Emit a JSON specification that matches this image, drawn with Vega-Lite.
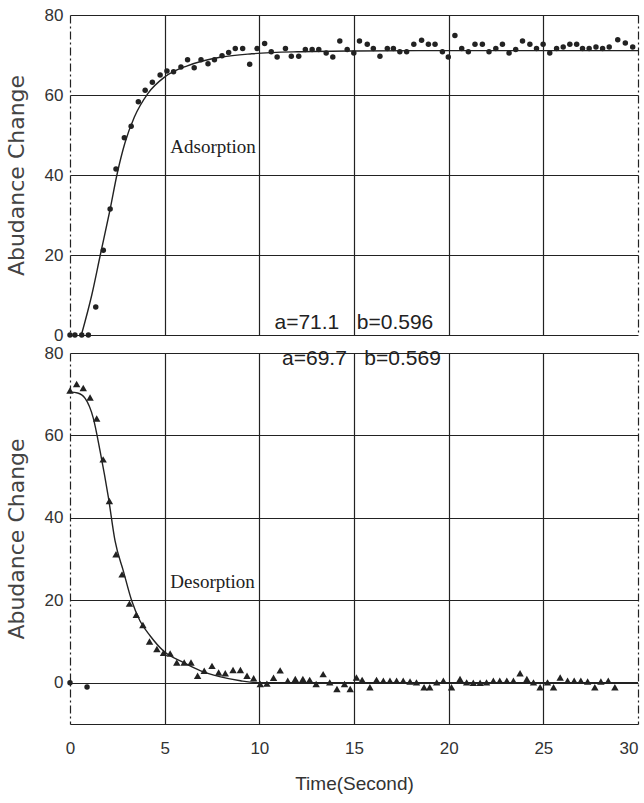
{
  "$schema": "https://vega.github.io/schema/vega-lite/v6.json",
  "background": "white",
  "padding": {"left": 5, "top": 6, "right": 5, "bottom": 4},
  "spacing": 18,
  "bounds": "flush",
  "config": {
    "view": {"stroke": null},
    "font": "Liberation Sans",
    "axis": {
      "ticks": false,
      "domain": false,
      "grid": true,
      "gridColor": "#222",
      "gridWidth": 1.2,
      "gridOpacity": 1,
      "labelFont": "Liberation Sans",
      "labelFontSize": 17,
      "labelColor": "#333",
      "titleFont": "DejaVu Sans",
      "titleFontWeight": "normal",
      "titleColor": "#444"
    }
  },
  "datasets": {
    "ads_pts": [
      {"t":0,"v":0},{"t":0.26,"v":0},{"t":0.62,"v":0},{"t":0.97,"v":0},{"t":1.36,"v":7},{"t":1.76,"v":21.2},{"t":2.12,"v":31.5},{"t":2.43,"v":41.5},{"t":2.87,"v":49.3},{"t":3.23,"v":52.2},{"t":3.61,"v":58.3},{"t":3.97,"v":61.2},{"t":4.35,"v":63.2},{"t":4.76,"v":65},{"t":5.12,"v":66},{"t":5.47,"v":65.8},{"t":5.86,"v":67},{"t":6.21,"v":68.8},{"t":6.56,"v":66.8},{"t":6.92,"v":68.8},{"t":7.29,"v":67.8},{"t":7.63,"v":68.8},{"t":8.03,"v":69.8},{"t":8.38,"v":70.6},{"t":8.73,"v":71.6},{"t":9.12,"v":71.6},{"t":9.49,"v":67.7},{"t":9.88,"v":71.6},{"t":10.28,"v":72.9},{"t":10.63,"v":70.8},{"t":10.94,"v":69.5},{"t":11.38,"v":71.6},{"t":11.69,"v":69.7},{"t":12.08,"v":69.7},{"t":12.43,"v":71.4},{"t":12.79,"v":71.4},{"t":13.14,"v":71.4},{"t":13.53,"v":70.5},{"t":13.88,"v":69.5},{"t":14.25,"v":73.5},{"t":14.64,"v":71.4},{"t":14.99,"v":70.5},{"t":15.29,"v":73.5},{"t":15.7,"v":72.7},{"t":16.02,"v":71.6},{"t":16.37,"v":69.7},{"t":16.76,"v":71.6},{"t":17.08,"v":71.6},{"t":17.42,"v":70.8},{"t":17.78,"v":70.8},{"t":18.16,"v":72.7},{"t":18.57,"v":73.7},{"t":18.93,"v":72.7},{"t":19.28,"v":72.7},{"t":19.67,"v":70.8},{"t":19.98,"v":69.5},{"t":20.33,"v":74.9},{"t":20.69,"v":71.6},{"t":21.04,"v":70.8},{"t":21.39,"v":72.7},{"t":21.78,"v":72.7},{"t":22.13,"v":70.8},{"t":22.49,"v":71.6},{"t":22.84,"v":72.7},{"t":23.19,"v":70.5},{"t":23.54,"v":71.4},{"t":23.9,"v":73.5},{"t":24.29,"v":72.7},{"t":24.64,"v":71.6},{"t":24.99,"v":72.7},{"t":25.34,"v":70.5},{"t":25.7,"v":71.6},{"t":26.05,"v":72},{"t":26.4,"v":72.7},{"t":26.76,"v":72.7},{"t":27.07,"v":71.6},{"t":27.42,"v":71.6},{"t":27.78,"v":72},{"t":28.13,"v":71.6},{"t":28.48,"v":72},{"t":28.93,"v":73.8},{"t":29.33,"v":73},{"t":29.72,"v":72}
    ],
    "ads_fit": [
      {"t":0.6,"v":0},{"t":1.15,"v":10},{"t":1.6,"v":20},{"t":2.1,"v":31},{"t":2.5,"v":40.5},{"t":2.9,"v":48},{"t":3.4,"v":54.5},{"t":4.1,"v":60.3},{"t":5,"v":64.5},{"t":6.2,"v":67.3},{"t":7,"v":68.5},{"t":8,"v":69.5},{"t":9.6,"v":70.3},{"t":12,"v":70.8},{"t":15,"v":71},{"t":20,"v":71.1},{"t":30,"v":71.1}
    ],
    "des_pts": [
      {"t":0,"v":70.9},{"t":0.35,"v":72.5},{"t":0.7,"v":71.5},{"t":1.06,"v":69.2},{"t":1.41,"v":64.1},{"t":1.75,"v":54.2},{"t":2.08,"v":44.1},{"t":2.43,"v":31.2},{"t":2.75,"v":26.3},{"t":3.14,"v":19.2},{"t":3.5,"v":16.5},{"t":3.85,"v":14},{"t":4.2,"v":10},{"t":4.59,"v":8.2},{"t":4.94,"v":7.3},{"t":5.29,"v":7.1},{"t":5.64,"v":4.9},{"t":6.03,"v":4.9},{"t":6.39,"v":4.9},{"t":6.74,"v":1.7},{"t":7.09,"v":2.9},{"t":7.5,"v":4.1},{"t":7.85,"v":2.5},{"t":8.2,"v":2.3},{"t":8.61,"v":3.1},{"t":9,"v":3.1},{"t":9.35,"v":1.7},{"t":9.7,"v":1.1},{"t":10.05,"v":-0.3},{"t":10.4,"v":-0.2},{"t":10.75,"v":1.2},{"t":11.1,"v":3},{"t":11.5,"v":0.5},{"t":11.9,"v":0.9},{"t":12.3,"v":0.9},{"t":12.66,"v":0.7},{"t":13,"v":-0.3},{"t":13.37,"v":2.1},{"t":13.72,"v":0.1},{"t":14.1,"v":-1.5},{"t":14.5,"v":-0.3},{"t":14.8,"v":-1.5},{"t":15.13,"v":1.3},{"t":15.43,"v":0.7},{"t":15.84,"v":-1.1},{"t":16.19,"v":0.7},{"t":16.55,"v":0.5},{"t":16.9,"v":0.5},{"t":17.25,"v":0.5},{"t":17.6,"v":0.5},{"t":17.96,"v":0.3},{"t":18.3,"v":0.1},{"t":18.7,"v":-1.1},{"t":19,"v":-1.1},{"t":19.37,"v":0.1},{"t":19.72,"v":0.5},{"t":20.15,"v":-1.1},{"t":20.6,"v":0.9},{"t":20.95,"v":0.1},{"t":21.3,"v":0},{"t":21.66,"v":0},{"t":22,"v":0.1},{"t":22.36,"v":0.5},{"t":22.7,"v":0.5},{"t":23.07,"v":0.5},{"t":23.42,"v":0.5},{"t":23.77,"v":2.3},{"t":24.13,"v":0.9},{"t":24.48,"v":0.1},{"t":24.83,"v":-1.1},{"t":25.22,"v":0.1},{"t":25.54,"v":-1.1},{"t":25.89,"v":1.3},{"t":26.28,"v":0.5},{"t":26.63,"v":0.5},{"t":26.98,"v":0.5},{"t":27.34,"v":0.3},{"t":27.72,"v":-1.1},{"t":28.04,"v":0.3},{"t":28.43,"v":0.5},{"t":28.78,"v":-1.1}
    ],
    "des_fit": [
      {"t":0,"v":70.5},{"t":0.4,"v":70.3},{"t":0.8,"v":69},{"t":1.23,"v":64.2},{"t":1.59,"v":56.2},{"t":2.03,"v":44.9},{"t":2.38,"v":34.4},{"t":2.82,"v":27.1},{"t":3.26,"v":19.9},{"t":3.7,"v":15},{"t":4.23,"v":11.4},{"t":4.94,"v":7.7},{"t":6,"v":4.9},{"t":6.9,"v":2.9},{"t":7.9,"v":1.5},{"t":9,"v":0.5},{"t":10,"v":0},{"t":30,"v":0}
    ],
    "des_dots": [
      {"t":0,"v":0},{"t":0.9,"v":-1}
    ],
    "top_serif": [{"t":5.3,"v":46.9,"label":"Adsorption"}],
    "top_sans": [{"t":10.8,"v":3,"label":"a=71.1\u00a0\u00a0\u00a0b=0.596"}],
    "bot_serif": [{"t":5.3,"v":24.4,"label":"Desorption"}],
    "bot_sans": [{"t":11.2,"v":78.6,"label":"a=69.7\u00a0\u00a0\u00a0b=0.569"}]
  },
  "vconcat": [
    {
      "width": 568,
      "height": 320,
      "encoding": {
        "x": {"field": "t", "type": "quantitative", "scale": {"domain": [0, 30], "nice": false},
          "axis": {"values": [0,5,10,15,20,25,30], "labels": false, "title": null,
            "gridDash": {"condition": {"test": "datum.value === 0 || datum.value === 30", "value": [8,3,2,3]}, "value": []}}},
        "y": {"field": "v", "type": "quantitative", "scale": {"domain": [0, 80], "nice": false},
          "axis": {"values": [0,20,40,60,80], "title": "Abudance Change", "titleFontSize": 22, "titlePadding": 16, "labelPadding": 7}}
      },
      "layer": [
        {"data": {"name": "ads_fit"}, "mark": {"type": "line", "interpolate": "monotone", "color": "#222", "strokeWidth": 1.4}},
        {"data": {"name": "ads_pts"}, "mark": {"type": "circle", "size": 30, "color": "#222", "opacity": 1}},
        {"data": {"name": "top_serif"}, "mark": {"type": "text", "align": "left", "baseline": "middle", "font": "Liberation Serif", "fontSize": 19, "color": "#222"}, "encoding": {"text": {"field": "label"}}},
        {"data": {"name": "top_sans"}, "mark": {"type": "text", "align": "left", "baseline": "middle", "font": "Liberation Sans", "fontSize": 21, "color": "#222"}, "encoding": {"text": {"field": "label"}}}
      ]
    },
    {
      "width": 568,
      "height": 371,
      "encoding": {
        "x": {"field": "t", "type": "quantitative", "scale": {"domain": [0, 30], "nice": false},
          "axis": {"values": [0,5,10,15,20,25,30], "title": "Time(Second)", "titleFont": "Liberation Sans", "titleFontSize": 19, "titleColor": "#333", "titlePadding": 18, "labelPadding": 16,
            "labelAlign": {"condition": {"test": "datum.value === 30", "value": "right"}, "value": "center"},
            "gridDash": {"condition": {"test": "datum.value === 0 || datum.value === 30", "value": [8,3,2,3]}, "value": []}}},
        "y": {"field": "v", "type": "quantitative", "scale": {"domain": [-10, 80], "nice": false},
          "axis": {"values": [-10,0,20,40,60,80], "labelExpr": "datum.value === -10 ? '' : datum.label", "title": "Abudance Change", "titleFontSize": 22, "titlePadding": 16, "labelPadding": 7}}
      },
      "layer": [
        {"data": {"name": "des_fit"}, "mark": {"type": "line", "interpolate": "monotone", "color": "#222", "strokeWidth": 1.4}},
        {"data": {"name": "des_pts"}, "mark": {"type": "point", "shape": "triangle-up", "size": 55, "filled": true, "color": "#222", "opacity": 1}},
        {"data": {"name": "des_dots"}, "mark": {"type": "circle", "size": 30, "color": "#222", "opacity": 1}},
        {"data": {"name": "bot_serif"}, "mark": {"type": "text", "align": "left", "baseline": "middle", "font": "Liberation Serif", "fontSize": 19, "color": "#222"}, "encoding": {"text": {"field": "label"}}},
        {"data": {"name": "bot_sans"}, "mark": {"type": "text", "align": "left", "baseline": "middle", "font": "Liberation Sans", "fontSize": 21, "color": "#222"}, "encoding": {"text": {"field": "label"}}}
      ]
    }
  ]
}
